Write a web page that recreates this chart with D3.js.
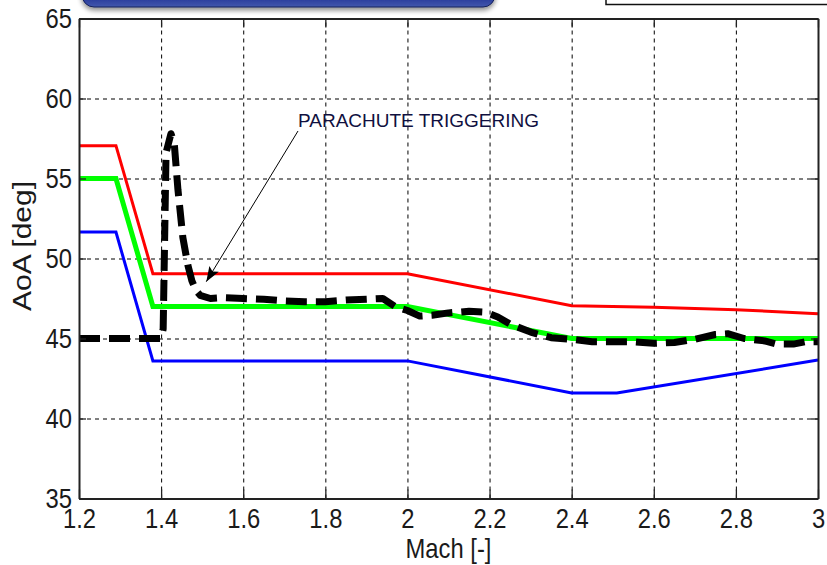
<!DOCTYPE html>
<html>
<head>
<meta charset="utf-8">
<script src="https://cdn.jsdelivr.net/npm/d3@7/dist/d3.min.js"></script>
<style>
  html, body { margin: 0; padding: 0; background: #ffffff; }
  svg { display: block; }
  text { font-family: "Liberation Sans", Arial, sans-serif; fill: #1a1a1a; }
</style>
</head>
<body>
<svg id="chart" width="827" height="565"></svg>
<script>
// Angle-of-attack corridor versus Mach number
const xTicks = [1.2, 1.4, 1.6, 1.8, 2, 2.2, 2.4, 2.6, 2.8, 3];
const yTicks = [35, 40, 45, 50, 55, 60, 65];

// Upper limit (red)
const upperMach = [1.2, 1.29, 1.38, 2.0, 2.4, 2.6, 2.8, 3.0];
const upperAoA  = [57.05, 57.05, 49.05, 49.05, 47.05, 46.95, 46.8, 46.55];

// Nominal profile (green)
const nominalMach = [1.2, 1.29, 1.38, 2.0, 2.4, 3.0];
const nominalAoA  = [55.0, 55.0, 47.0, 47.0, 45.0, 45.0];

// Lower limit (blue)
const lowerMach = [1.2, 1.29, 1.38, 2.0, 2.4, 2.51, 3.0];
const lowerAoA  = [51.65, 51.65, 43.6, 43.6, 41.6, 41.6, 43.65];

// Flown trajectory (black dashed)
const flightMach = [1.2, 1.40, 1.405, 1.412, 1.424, 1.432, 1.441, 1.453, 1.465, 1.475, 1.485, 1.495, 1.52,
  1.55, 1.6, 1.65, 1.7, 1.75, 1.8, 1.85, 1.9, 1.94, 1.97, 2.0, 2.03, 2.06, 2.1, 2.15, 2.19, 2.22,
  2.25, 2.3, 2.35, 2.4, 2.45, 2.5, 2.55, 2.6, 2.65, 2.7, 2.75, 2.78, 2.82, 2.87, 2.9, 2.94, 2.97, 3.0];
const flightAoA = [45.0, 45.0, 45.6, 56.6, 57.8, 57.2, 54.3, 51.3, 49.6, 48.6, 48.0, 47.7, 47.5,
  47.55, 47.5, 47.45, 47.35, 47.3, 47.3, 47.4, 47.45, 47.5, 47.0, 46.75, 46.4, 46.45, 46.6, 46.7, 46.65, 46.35,
  45.9, 45.4, 45.05, 44.95, 44.8, 44.8, 44.8, 44.7, 44.75, 44.95, 45.25, 45.3, 45.0, 44.85, 44.65, 44.65, 44.8, 44.8];

const annotationText = "PARACHUTE TRIGGERING";
const xTitle = "Mach [-]";
const yTitle = "AoA [deg]";

const svg = d3.select("#chart");
const plotLeft = 79, plotRight = 818, plotTop = 18.5, plotBottom = 498.5;
const plotW = plotRight - plotLeft, plotH = plotBottom - plotTop;
const squeeze = 0.85;

const x = d3.scaleLinear().domain([1.2, 3]).range([plotLeft, plotRight]);
const y = d3.scaleLinear().domain([35, 65]).range([plotBottom, plotTop]);

// Header panels partly visible above the plot
const defs = svg.append("defs");
const grad = defs.append("linearGradient").attr("id", "navy").attr("x1", 0).attr("y1", 0).attr("x2", 0).attr("y2", 1);
grad.append("stop").attr("offset", "0%").attr("stop-color", "#1c2b73");
grad.append("stop").attr("offset", "75%").attr("stop-color", "#27399a");
grad.append("stop").attr("offset", "100%").attr("stop-color", "#4257ad");
const shadow = defs.append("filter").attr("id", "shadow").attr("x", "-10%").attr("y", "-50%").attr("width", "120%").attr("height", "200%");
shadow.append("feGaussianBlur").attr("in", "SourceAlpha").attr("stdDeviation", 2.5).attr("result", "b");
shadow.append("feOffset").attr("in", "b").attr("dy", 3).attr("result", "o");
shadow.append("feComponentTransfer").attr("in", "o").attr("result", "s")
  .append("feFuncA").attr("type", "linear").attr("slope", 0.45);
const merge = shadow.append("feMerge");
merge.append("feMergeNode").attr("in", "s");
merge.append("feMergeNode").attr("in", "SourceGraphic");

svg.append("rect").attr("x", 82).attr("y", -30).attr("width", 413).attr("height", 37)
  .attr("rx", 12).attr("fill", "url(#navy)").attr("stroke", "#15205a").attr("stroke-width", 1)
  .attr("filter", "url(#shadow)");
svg.append("rect").attr("x", 606).attr("y", -20).attr("width", 240).attr("height", 24.5)
  .attr("fill", "#ffffff").attr("stroke", "#111").attr("stroke-width", 1.5);

// Dashed grid
const grid = svg.append("g");
grid.append("g").attr("transform", `translate(0,${plotBottom})`)
  .call(d3.axisBottom(x).tickValues(xTicks).tickSize(-plotH).tickFormat(""))
  .call(g => g.select(".domain").remove())
  .call(g => g.selectAll("line").attr("stroke", "#000").attr("stroke-width", 1).attr("stroke-dasharray", "4,4"));
grid.append("g").attr("transform", `translate(${plotLeft},0)`)
  .call(d3.axisLeft(y).tickValues(yTicks).tickSize(-plotW).tickFormat(""))
  .call(g => g.select(".domain").remove())
  .call(g => g.selectAll("line").attr("stroke", "#000").attr("stroke-width", 1).attr("stroke-dasharray", "4,4"));

// Curves
const line = d3.line().x(d => x(d[0])).y(d => y(d[1]));
const pairs = (a, b) => a.map((v, i) => [v, b[i]]);

const plot = svg.append("g");
plot.append("path").datum(pairs(upperMach, upperAoA)).attr("d", line)
  .attr("fill", "none").attr("stroke", "#ff0000").attr("stroke-width", 3);
plot.append("path").datum(pairs(nominalMach, nominalAoA)).attr("d", line)
  .attr("fill", "none").attr("stroke", "#00ff00").attr("stroke-width", 5);
plot.append("path").datum(pairs(lowerMach, lowerAoA)).attr("d", line)
  .attr("fill", "none").attr("stroke", "#0000ff").attr("stroke-width", 3);
plot.append("path").datum(pairs(flightMach, flightAoA)).attr("d", line)
  .attr("fill", "none").attr("stroke", "#000").attr("stroke-width", 7)
  .attr("stroke-dasharray", "21,9").attr("stroke-linejoin", "round");

// Annotation with arrow
const tipX = x(1.51), tipY = y(48.55);
const tailX = 298, tailY = 131;
plot.append("line").attr("x1", tailX).attr("y1", tailY).attr("x2", tipX).attr("y2", tipY)
  .attr("stroke", "#000").attr("stroke-width", 1);
const ang = Math.atan2(tipY - tailY, tipX - tailX);
const hl = 15, hw = 5.5;
const bx = tipX - hl * Math.cos(ang), by = tipY - hl * Math.sin(ang);
plot.append("path")
  .attr("d", `M${tipX},${tipY} L${bx + hw * Math.sin(ang)},${by - hw * Math.cos(ang)} L${bx + 3 * Math.cos(ang)},${by + 3 * Math.sin(ang)} L${bx - hw * Math.sin(ang)},${by + hw * Math.cos(ang)} Z`)
  .attr("fill", "#000");
plot.append("text").attr("x", 298).attr("y", 127).attr("font-size", 19).style("fill", "#101040")
  .text(annotationText);

// Frame with inward ticks
const frame = svg.append("g");
const xb = frame.append("g").attr("transform", `translate(0,${plotBottom})`)
  .call(d3.axisBottom(x).tickValues(xTicks).tickSizeInner(-9).tickSizeOuter(0).tickPadding(19)
    .tickFormat(d => d3.format("")(d)));
frame.append("g").attr("transform", `translate(0,${plotTop})`)
  .call(d3.axisTop(x).tickValues(xTicks).tickSizeInner(-9).tickSizeOuter(0).tickFormat(""));
const yl = frame.append("g").attr("transform", `translate(${plotLeft},0)`)
  .call(d3.axisLeft(y).tickValues(yTicks).tickSizeInner(-7).tickSizeOuter(0).tickFormat(d => d));
frame.append("g").attr("transform", `translate(${plotRight},0)`)
  .call(d3.axisRight(y).tickValues(yTicks).tickSizeInner(-7).tickSizeOuter(0).tickFormat(""));
frame.selectAll(".domain").attr("stroke", "#222").attr("stroke-width", 2);
frame.selectAll(".tick line").attr("stroke", "#222").attr("stroke-width", 1.3);

xb.selectAll("text").attr("font-size", 28).attr("font-family", null)
  .attr("y", 0).attr("dy", null).attr("transform", `translate(0,29) scale(${squeeze},1)`);
yl.selectAll("text").attr("font-size", 28).attr("font-family", null)
  .attr("x", 0).attr("dy", "0.36em").attr("transform", `translate(-7,-1.5) scale(${squeeze},1)`);
svg.selectAll(".tick text").style("fill", "#1a1a1a");

// Axis titles
svg.append("text").attr("transform", `translate(${(plotLeft + plotRight) / 2},558) scale(${squeeze},1)`)
  .attr("text-anchor", "middle").attr("font-size", 28).text(xTitle);
svg.append("text").attr("transform", `translate(31,246) scale(${squeeze},1) rotate(-90)`)
  .attr("text-anchor", "middle").attr("font-size", 30).text(yTitle);
</script>
</body>
</html>
